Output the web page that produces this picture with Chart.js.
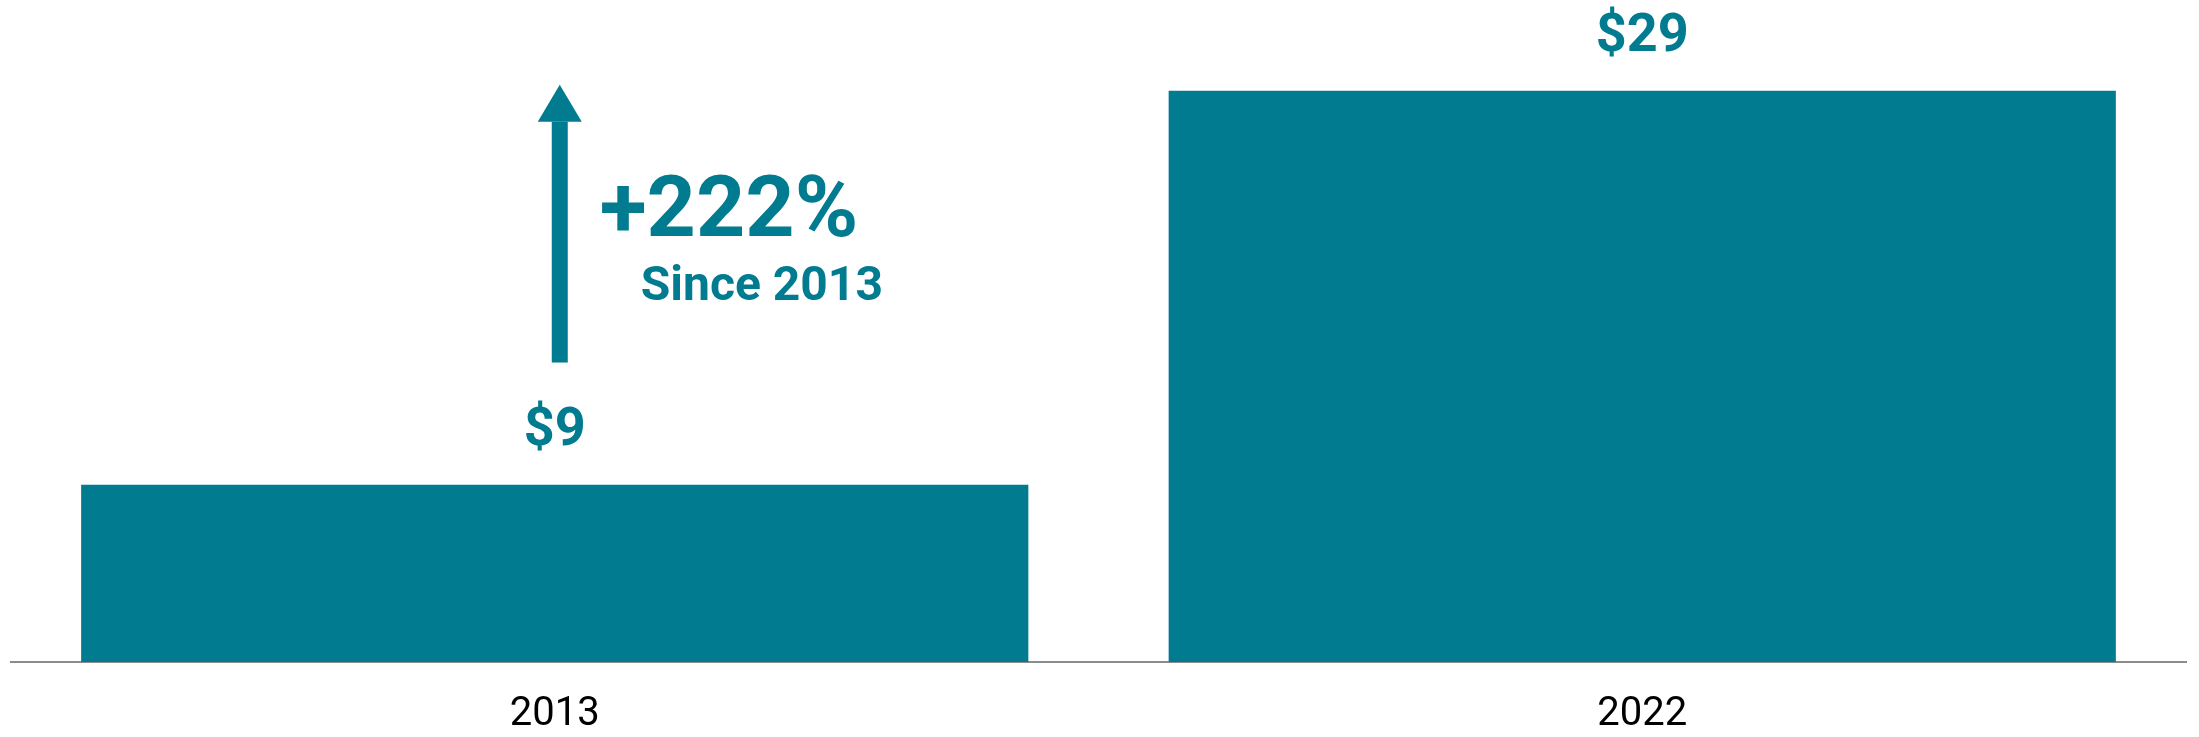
<!DOCTYPE html>
<html>
<head>
<meta charset="utf-8">
<script src="https://cdn.jsdelivr.net/npm/chart.js@4/dist/chart.umd.min.js"></script>
<style>
  html, body { margin: 0; padding: 0; background: #fff; }
  #wrap { width: 2199px; height: 737px; position: relative; }
</style>
</head>
<body>
<div id="wrap"><canvas id="priceChart"></canvas></div>
<script>
// data
const years = ['2013', '2022'];
const prices = [9, 29];
const priceLabels = ['$9', '$29'];
const changeText = '+222%';
const changeSub = 'Since 2013';
// arrow runs between these values on the y scale
const arrowFrom = 15.2;
const arrowTo = 29.3;

const teal = 'rgb(0, 123, 144)';

// labels above the bars + growth arrow
const annotatePlugin = {
    id: 'annotate',
    afterDatasetsDraw(chart) {
        const c = chart.ctx;
        const meta = chart.getDatasetMeta(0);
        const yScale = chart.scales.y;

        c.save();
        c.fillStyle = teal;
        c.textAlign = 'center';
        c.textBaseline = 'alphabetic';
        c.font = 'bold 54px Roboto';
        meta.data.forEach((bar, i) => {
            c.fillText(priceLabels[i], bar.x, bar.y - 40);
        });

        // arrow
        const ax = meta.data[0].x + 5;
        const yBottom = yScale.getPixelForValue(arrowFrom);
        const yTip = yScale.getPixelForValue(arrowTo);
        const headH = 37;
        c.fillRect(ax - 8, yTip + headH, 16, yBottom - yTip - headH);
        c.beginPath();
        c.moveTo(ax, yTip);
        c.lineTo(ax + 22, yTip + headH);
        c.lineTo(ax - 22, yTip + headH);
        c.closePath();
        c.fill();

        // change text
        c.textAlign = 'left';
        c.font = 'bold 86px Roboto';
        c.fillText(changeText, ax + 40, yTip + 151);
        c.font = 'bold 48px Roboto';
        c.fillText(changeSub, ax + 81, yTip + 215);
        c.restore();
    }
};

const ctx = document.getElementById('priceChart').getContext('2d');
const priceChart = new Chart(ctx, {
    type: 'bar',
    data: {
        labels: years,
        datasets: [{
            data: prices,
            backgroundColor: teal,
            borderWidth: 0,
            categoryPercentage: 1,
            barPercentage: 0.871
        }]
    },
    options: {
        responsive: true,
        maintainAspectRatio: false,
        animation: false,
        layout: { padding: { left: 11, right: 13, top: 0, bottom: 0 } },
        plugins: {
            legend: { display: false },
            tooltip: { enabled: false }
        },
        scales: {
            x: {
                grid: { display: false, drawTicks: false },
                border: { display: true, color: '#8c8c8c', width: 2 },
                ticks: {
                    color: '#000',
                    font: { family: 'Roboto', size: 40 },
                    padding: 29
                },
                afterFit(scale) { scale.height = 75; }
            },
            y: {
                display: false,
                min: 0,
                max: 33.6
            }
        }
    },
    plugins: [annotatePlugin]
});
</script>
</body>
</html>
